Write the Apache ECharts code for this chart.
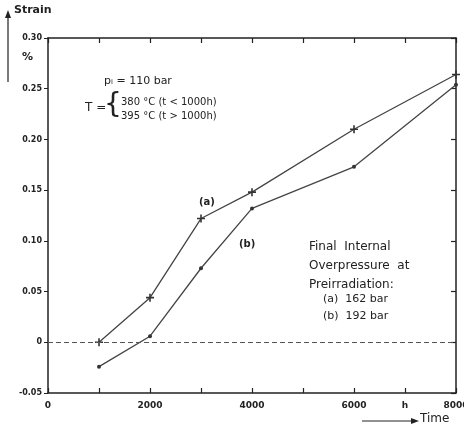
<!DOCTYPE html>
<html><head><meta charset="utf-8">
<script src="https://cdn.jsdelivr.net/npm/echarts@6/dist/echarts.min.js"></script>
<style>html,body{margin:0;padding:0;background:#fff}#c{width:464px;height:429px}</style>
</head><body><div id="c"></div>
<script>
const times = [1000, 2000, 3000, 4000, 6000, 8000];
const strainA = [0.0, 0.044, 0.122, 0.148, 0.210, 0.264];
const strainB = [-0.024, 0.006, 0.073, 0.132, 0.173, 0.254];
const xTickLabels = {0: '0', 2000: '2000', 4000: '4000', 6000: '6000', 7000: 'h', 8000: '8000'};
const yTickLabels = {'-0.05': '-0.05', '0': '0', '0.05': '0.05', '0.1': '0.10', '0.15': '0.15', '0.2': '0.20', '0.25': '0.25', '0.3': '0.30'};

const F = 'DejaVu Sans';
const ink = '#222';
const plus = 'path://M4,0 L6,0 L6,4 L10,4 L10,6 L6,6 L6,10 L4,10 L4,6 L0,6 L0,4 L4,4 Z';

const chart = echarts.init(document.getElementById('c'));
const axLine = {show: true, onZero: false, lineStyle: {color: ink, width: 1.5}};
const tick = {show: true, inside: true, length: 5, lineStyle: {color: ink, width: 1.2}};
chart.setOption({
  backgroundColor: '#fff',
  animation: false,
  grid: {left: 48, right: 8, top: 38, bottom: 36, containLabel: false, outerBoundsMode: 'none'},
  xAxis: [
    {type: 'value', min: 0, max: 8000, interval: 1000, position: 'bottom',
     axisLine: axLine, axisTick: tick, splitLine: {show: false},
     axisLabel: {color: ink, fontFamily: F, fontSize: 9, fontWeight: 'bold', margin: 8, hideOverlap: false,
       formatter: v => (xTickLabels[v] !== undefined ? xTickLabels[v] : '')}},
    {type: 'value', min: 0, max: 8000, interval: 1000, position: 'top',
     axisLine: axLine, axisTick: tick, splitLine: {show: false}, axisLabel: {show: false}}
  ],
  yAxis: [
    {type: 'value', min: -0.05, max: 0.30, interval: 0.05, position: 'left',
     axisLine: axLine, axisTick: {show: true, inside: false, length: 4, lineStyle: {color: ink}}, splitLine: {show: false},
     axisLabel: {color: ink, fontFamily: F, fontSize: 8, fontWeight: 'bold', margin: 6,
       formatter: v => { const k = String(Math.round(v * 100) / 100); return yTickLabels[k] !== undefined ? yTickLabels[k] : ''; }}},
    {type: 'value', min: -0.05, max: 0.30, interval: 0.05, position: 'right',
     axisLine: axLine, axisTick: tick, splitLine: {show: false}, axisLabel: {show: false}}
  ],
  series: [
    {name: '(a)', type: 'line', data: times.map((t, i) => [t, strainA[i]]),
     symbol: plus, symbolSize: 8, lineStyle: {color: '#444', width: 1.3},
     itemStyle: {color: '#333'},
     markLine: {silent: true, symbol: 'none', label: {show: false},
       lineStyle: {color: '#555', type: [5, 3], width: 1.2}, data: [{yAxis: 0}]}},
    {name: '(b)', type: 'line', data: times.map((t, i) => [t, strainB[i]]),
     symbol: 'circle', symbolSize: 4, lineStyle: {color: '#444', width: 1.3},
     itemStyle: {color: '#333'}}
  ],
  graphic: [
    {type: 'text', left: 14, top: 5, style: {text: 'Strain', font: 'bold 11px "DejaVu Sans"', fill: ink}},
    {type: 'line', shape: {x1: 8, y1: 82, x2: 8, y2: 16}, style: {stroke: ink, lineWidth: 1.2}},
    {type: 'polygon', shape: {points: [[8, 10], [5, 18], [11, 18]]}, style: {fill: ink}},
    {type: 'text', left: 22, top: 52, style: {text: '%', font: 'bold 11px "DejaVu Sans"', fill: ink}},
    {type: 'text', left: 104, top: 76, style: {text: 'pᵢ = 110 bar', font: '11px "DejaVu Sans"', fill: ink}},
    {type: 'text', left: 85, top: 102, style: {text: 'T =', font: '12px "DejaVu Sans"', fill: ink}},
    {type: 'text', left: 104, top: 92, style: {text: '{', font: '28px "DejaVu Sans"', fill: ink}},
    {type: 'text', left: 121, top: 97, style: {text: '380 °C (t < 1000h)', font: '10px "DejaVu Sans"', fill: ink}},
    {type: 'text', left: 121, top: 111, style: {text: '395 °C (t > 1000h)', font: '10px "DejaVu Sans"', fill: ink}},
    {type: 'text', left: 199, top: 197, style: {text: '(a)', font: 'bold 10px "DejaVu Sans"', fill: ink}},
    {type: 'text', left: 239, top: 239, style: {text: '(b)', font: 'bold 10px "DejaVu Sans"', fill: ink}},
    {type: 'text', left: 309, top: 237, style: {text: 'Final  Internal\nOverpressure  at\nPreirradiation:', font: '12px "DejaVu Sans"', fill: ink, lineHeight: 19}},
    {type: 'text', left: 323, top: 291, style: {text: '(a)  162 bar\n(b)  192 bar', font: '11px "DejaVu Sans"', fill: ink, lineHeight: 17}},
    {type: 'line', shape: {x1: 362, y1: 421, x2: 412, y2: 421}, style: {stroke: ink, lineWidth: 1.2}},
    {type: 'polygon', shape: {points: [[419, 421], [411, 418], [411, 424]]}, style: {fill: ink}},
    {type: 'text', left: 420, top: 413, style: {text: 'Time', font: '12px "DejaVu Sans"', fill: ink}}
  ]
});
</script></body></html>
